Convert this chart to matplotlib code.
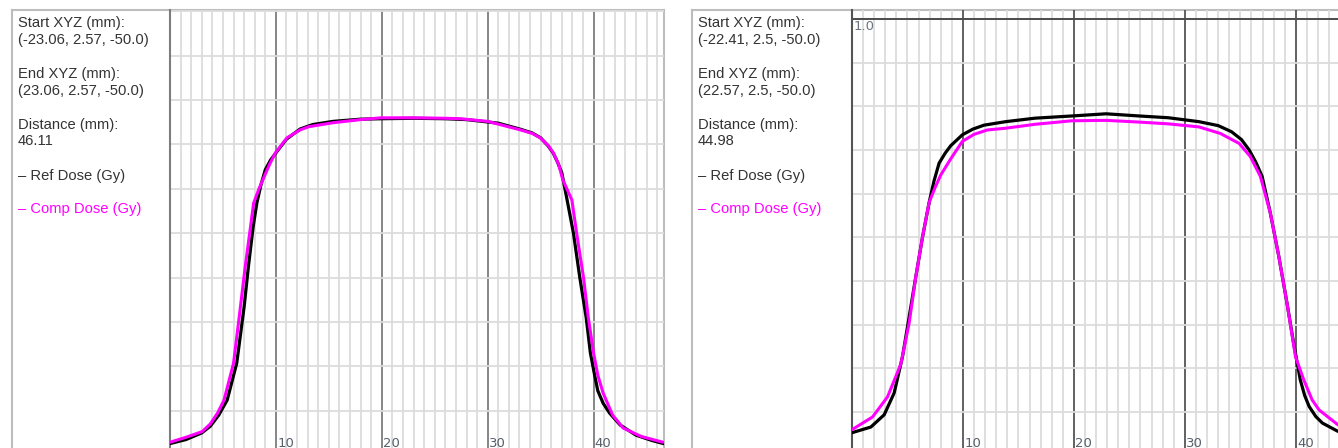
import matplotlib
matplotlib.use("Agg")
import matplotlib.pyplot as plt
from matplotlib.ticker import MultipleLocator
from matplotlib import font_manager

# ---------------- data ----------------
# Left panel
left_ref_x = [0, 1.5, 3.0, 3.8, 4.6, 5.4, 6.3, 7.0, 7.4, 7.85, 8.2, 8.6, 9.0, 9.5, 10.0, 11.0, 12.3, 13.5, 15.4, 18, 20, 23, 26, 28, 31, 33, 34.2, 35, 35.7, 36.2, 36.6, 37.0, 37.5, 38.1, 38.7, 39.3, 39.7, 40.1, 40.4, 40.9, 41.5, 42.5, 44, 45.5, 46.6]
left_ref_y = [0.026, 0.035, 0.05, 0.065, 0.09, 0.124, 0.207, 0.334, 0.424, 0.514, 0.568, 0.61, 0.643, 0.665, 0.681, 0.712, 0.735, 0.745, 0.752, 0.757, 0.758, 0.759, 0.758, 0.756, 0.748, 0.735, 0.726, 0.715, 0.697, 0.68, 0.66, 0.636, 0.575, 0.50, 0.40, 0.31, 0.23, 0.18, 0.145, 0.117, 0.095, 0.068, 0.045, 0.033, 0.026]
left_comp_x = [0, 1.5, 3.04, 3.8, 4.5, 5.1, 6.0, 6.65, 7.1, 7.6, 7.9, 8.4, 8.85, 9.4, 9.95, 11.05, 12.3, 13.1, 15.4, 18, 19.9, 23, 26, 27.4, 30, 33.07, 34.2, 34.95, 35.7, 36.2, 36.7, 37.1, 37.95, 38.4, 39.05, 39.5, 40.0, 40.4, 40.9, 41.8, 42.8, 44.5, 46.55]
left_comp_y = [0.029, 0.04, 0.053, 0.07, 0.095, 0.124, 0.207, 0.334, 0.424, 0.514, 0.568, 0.6, 0.625, 0.655, 0.681, 0.715, 0.733, 0.740, 0.749, 0.756, 0.760, 0.760, 0.759, 0.758, 0.752, 0.733, 0.725, 0.715, 0.698, 0.681, 0.655, 0.62, 0.575, 0.50, 0.40, 0.31, 0.23, 0.18, 0.14, 0.09, 0.061, 0.042, 0.029]

# Right panel
right_ref_x = [0, 1.7, 2.9, 3.8, 4.55, 5.15, 5.75, 6.35, 6.95, 7.4, 7.85, 8.4, 8.9, 9.95, 10.9, 11.9, 13.85, 16.5, 19.8, 22.9, 25.9, 28.5, 31.26, 33.0, 34.2, 35.1, 35.8, 36.4, 36.96, 37.7, 38.47, 39.2, 39.8, 40.4, 40.8, 41.2, 41.8, 42.4, 43.8]
right_ref_y = [0.053, 0.066, 0.094, 0.144, 0.227, 0.318, 0.41, 0.50, 0.58, 0.63, 0.67, 0.693, 0.71, 0.735, 0.748, 0.757, 0.765, 0.773, 0.778, 0.783, 0.778, 0.774, 0.765, 0.756, 0.742, 0.724, 0.70, 0.672, 0.64, 0.556, 0.456, 0.35, 0.258, 0.174, 0.138, 0.113, 0.09, 0.075, 0.056]
right_comp_x = [0, 1.85, 3.2, 4.4, 5.15, 5.75, 6.35, 6.95, 7.5, 8.0, 8.9, 9.95, 11.0, 12.2, 13.85, 16.5, 19.8, 22.9, 25.9, 28.5, 31.26, 33.2, 34.9, 35.9, 36.8, 37.7, 38.47, 39.2, 39.97, 40.7, 41.47, 42.1, 43.8]
right_comp_y = [0.06, 0.089, 0.135, 0.21, 0.304, 0.41, 0.50, 0.58, 0.615, 0.643, 0.68, 0.72, 0.736, 0.746, 0.75, 0.759, 0.767, 0.768, 0.764, 0.76, 0.753, 0.738, 0.715, 0.685, 0.64, 0.556, 0.456, 0.35, 0.227, 0.175, 0.128, 0.105, 0.071]

x_tick_values = [10, 20, 30, 40]
x_tick_labels = ["10", "20", "30", "40"]

left_info = ["Start XYZ (mm):", "(-23.06, 2.57, -50.0)", "End XYZ (mm):", "(23.06, 2.57, -50.0)", "Distance (mm):", "46.11"]
right_info = ["Start XYZ (mm):", "(-22.41, 2.5, -50.0)", "End XYZ (mm):", "(22.57, 2.5, -50.0)", "Distance (mm):", "44.98"]
legend_labels = ["\u2013 Ref Dose (Gy)", "\u2013 Comp Dose (Gy)"]

# ---------------- style ----------------
W, H = 1338, 448
avail = {f.name for f in font_manager.fontManager.ttflist}
txt_font = "Liberation Sans Narrow" if "Liberation Sans Narrow" in avail else "Liberation Sans"

REF_COLOR = "black"
COMP_COLOR = "#ff00ff"
TXT_COLOR = "#333333"
MINOR_GRID = "#dcdcdc"
BOX_COLOR = "#bdbdbd"
TICK_COLOR = "#56606b"

fig = plt.figure(figsize=(W / 100, H / 100), dpi=100)


def fx(px):
    return px / W


def fy(py):
    return 1 - py / H


def panel(box_l, box_r, plot_l, plot_r, xmax, ylim, major_color, info, refx, refy, compx, compy, show_one):
    # outer box
    bax = fig.add_axes([fx(box_l), 0, fx(box_r - box_l), fy(10)])
    bax.set_xticks([]); bax.set_yticks([])
    bax.set_facecolor("white")
    for s in ["top", "left", "right"]:
        bax.spines[s].set_color(BOX_COLOR)
        bax.spines[s].set_linewidth(1.5)
    bax.spines["bottom"].set_visible(False)

    # info text
    ys = [23, 40, 74, 91, 125, 141]
    for t, yy in zip(info, ys):
        fig.text(fx(box_l + 6), fy(yy), t, fontsize=10.6, family=txt_font,
                 color=TXT_COLOR, va="center", ha="left")
    fig.text(fx(box_l + 6), fy(176), legend_labels[0], fontsize=10.6, family=txt_font,
             color=TXT_COLOR, va="center", ha="left")
    fig.text(fx(box_l + 6), fy(209), legend_labels[1], fontsize=10.6, family=txt_font,
             color=COMP_COLOR, va="center", ha="left")

    ax = fig.add_axes([fx(plot_l), 0, fx(plot_r - plot_l), fy(10)])
    ax.set_facecolor("none")
    ax.set_xlim(0, xmax)
    ax.set_ylim(*ylim)
    ax.xaxis.set_major_locator(MultipleLocator(10))
    ax.xaxis.set_minor_locator(MultipleLocator(1))
    ax.yaxis.set_major_locator(MultipleLocator(0.1))
    ax.grid(which="minor", axis="x", color=MINOR_GRID, lw=1.3)
    ax.grid(which="major", axis="y", color=MINOR_GRID, lw=1.3)
    ax.grid(which="major", axis="x", color=major_color, lw=1.3)
    ax.tick_params(which="both", length=0, labelbottom=False, labelleft=False)
    ax.set_axisbelow(True)
    for s in ["top", "right", "bottom"]:
        ax.spines[s].set_visible(False)
    ax.spines["left"].set_color(major_color)
    ax.spines["left"].set_linewidth(1.5)

    ax.plot(refx, refy, color=REF_COLOR, lw=2.3, solid_joinstyle="round",
            solid_capstyle="round", zorder=3)
    ax.plot(compx, compy, color=COMP_COLOR, lw=2.2, solid_joinstyle="round",
            solid_capstyle="round", zorder=4)

    trans = ax.get_xaxis_transform()
    for v, lab in zip(x_tick_values, x_tick_labels):
        ax.text(v + 0.12, -0.004, lab, transform=trans, fontsize=9.5, family="DejaVu Sans",
                color=TICK_COLOR, ha="left", va="bottom")
    if show_one:
        ax.axhline(1.0, color="#404040", lw=1.3, zorder=2)
        ax.text(0.15, 0.997, "1.0", fontsize=9.5, family="DejaVu Sans", color="#6a7580",
                ha="left", va="top")
    return ax


panel(12, 664, 170, 664, 46.65, (0.016, 1.003), "#7d7d7d", left_info,
      left_ref_x, left_ref_y, left_comp_x, left_comp_y, False)
panel(692, 1345, 852, 1338, 43.8, (0.018, 1.0206), "#555555", right_info,
      right_ref_x, right_ref_y, right_comp_x, right_comp_y, True)

fig.savefig("out.png", dpi=100, facecolor="white")
